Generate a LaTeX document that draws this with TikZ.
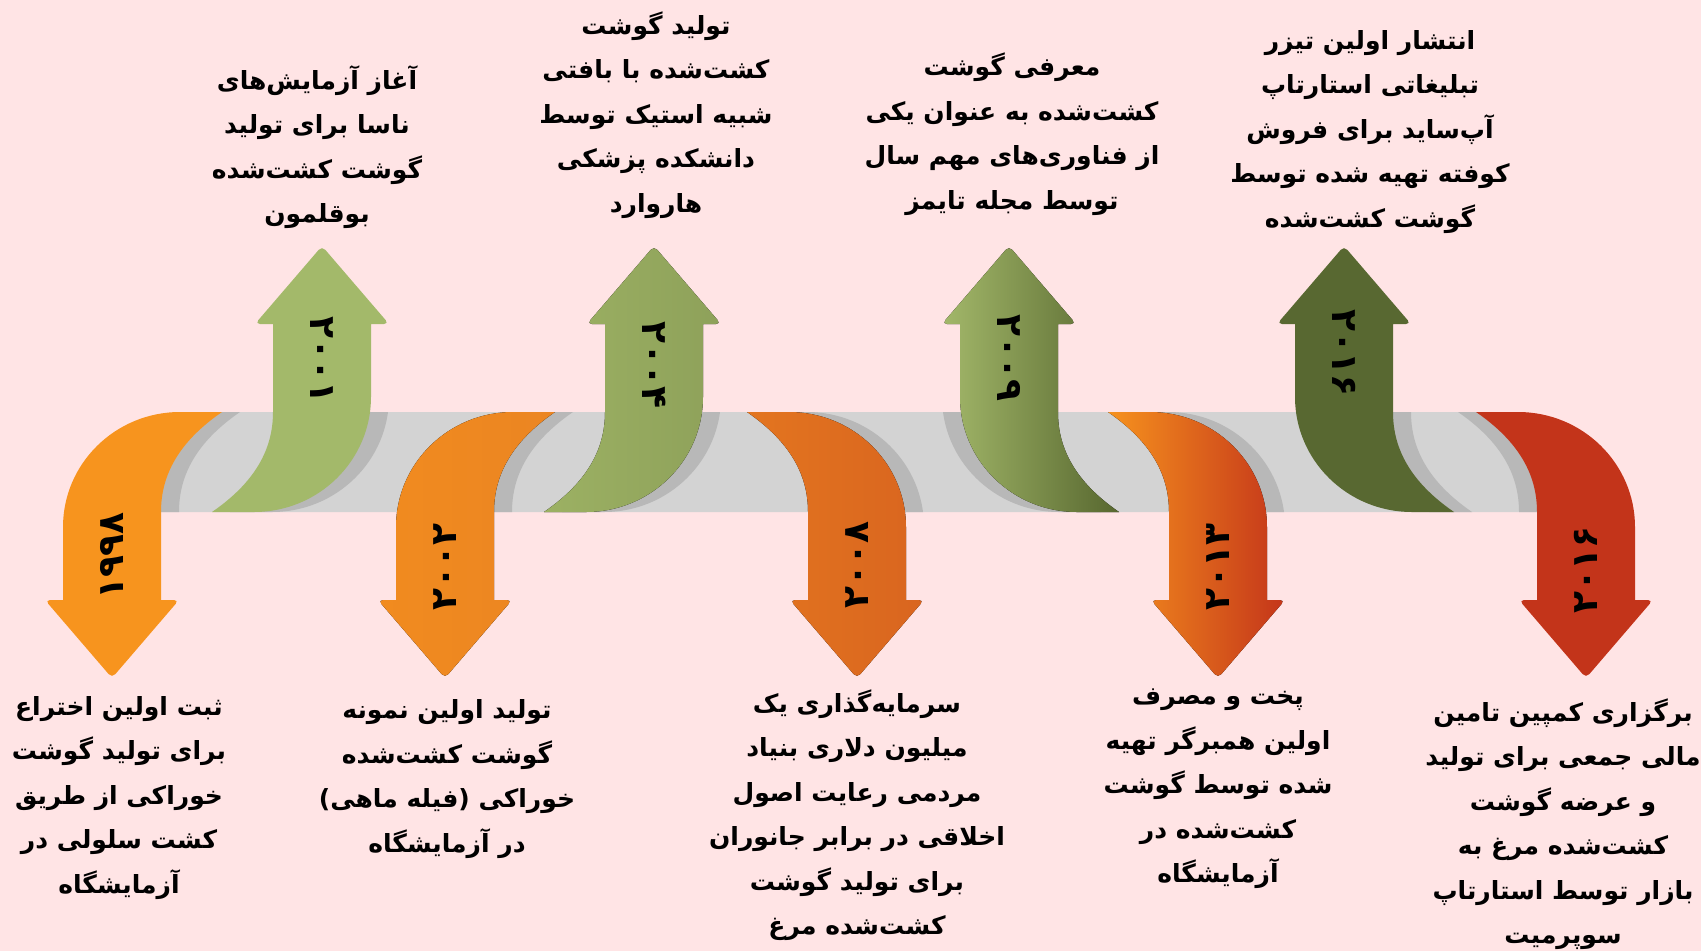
\documentclass[tikz,border=0pt]{standalone}
\usepackage{fontspec}
\usetikzlibrary{positioning}
\newfontfamily\farsifont[Script=Arabic]{DejaVu Sans}
\TeXXeTstate=1
\newcommand{\fa}[1]{\beginR #1\endR}

\definecolor{pagepink}{HTML}{FFE4E5}
\definecolor{bandgray}{HTML}{D3D3D3}
\definecolor{shadowgray}{HTML}{B8B8B8}

\tikzstyle{eventtext}=[font=\farsifont\bfseries\fontsize{25}{44.5}\selectfont, align=center, inner sep=0pt]
\tikzstyle{yearlabel}=[font=\farsifont\bfseries\fontsize{36}{36}\selectfont, inner sep=0pt]
\tikzstyle{keepdir}=[]
\tikzstyle{mirrorx}=[xscale=-1]
\tikzstyle{mirrory}=[yscale=-1]
\tikzstyle{turnround}=[xscale=-1,yscale=-1]
\tikzstyle{a1998}=[fill={rgb,255:red,247;green,148;blue,30}]
\tikzstyle{a2002}=[left color={rgb,255:red,241;green,139;blue,31}, right color={rgb,255:red,235;green,133;blue,34}]
\tikzstyle{a2008}=[left color={rgb,255:red,227;green,117;blue,31}, right color={rgb,255:red,217;green,101;blue,31}]
\tikzstyle{a2013}=[left color={rgb,255:red,246;green,146;blue,30}, right color={rgb,255:red,196;green,53;blue,26}]
\tikzstyle{a2016d}=[fill={rgb,255:red,195;green,52;blue,26}]
\tikzstyle{a2001}=[fill={rgb,255:red,163;green,185;blue,106}]
\tikzstyle{a2004}=[left color={rgb,255:red,156;green,177;blue,99}, right color={rgb,255:red,142;green,161;blue,90}]
\tikzstyle{a2009}=[left color={rgb,255:red,163;green,184;blue,106}, right color={rgb,255:red,87;green,103;blue,47}]
\tikzstyle{a2016u}=[fill={rgb,255:red,88;green,104;blue,49}]

% one bent arrow around (0,0) = middle of the band, pointing down
\newcommand{\arrowoutline}{(68,-50) -- (110,-50) .. controls (62,-17) and (49,18) .. (49,50)
  -- (49,138) [rounded corners=5pt] -- (67,138) -- (0,216) -- (-67,138) [sharp corners] -- (-49,138)
  -- (-49,65) .. controls (-49,1.5) and (3.4,-50) .. (68,-50) -- cycle}
% the band, round only on top
\newcommand{\bandoutline}{(150,512) [rounded corners=40pt] -- (150,412) -- (1550,412) [sharp corners] -- (1550,512) -- cycle}

\begin{document}
\begin{tikzpicture}[x=1pt, y=-1pt]

  \useasboundingbox (0,0) rectangle (1701,951);
  \fill[pagepink] (0,0) rectangle (1701,951);

  % the band
  \fill[bandgray] \bandoutline;

  % shadows on the band
  \begin{scope}
    \clip \bandoutline;
    \foreach \c/\tf in {130/keepdir, 463/keepdir, 875/mirrorx, 1236/mirrorx, 1568/mirrorx,
                        340/turnround, 672/turnround, 991/mirrory, 1362/mirrory}
        \fill[shadowgray, shift={(\c,462)}, \tf] \arrowoutline;
  \end{scope}

  % the arrows
  \foreach \c/\tf/\sty in {112/keepdir/a1998, 445/keepdir/a2002, 857/mirrorx/a2008, 1218/mirrorx/a2013,
                           1586/mirrorx/a2016d, 322/turnround/a2001, 654/turnround/a2004,
                           1009/mirrory/a2009, 1344/mirrory/a2016u}
      \fill[\sty, shift={(\c,462)}, \tf] \arrowoutline;

  % years
  \foreach \pos/\name/\label/\rot in {{(112,556)}/y1998/۱۹۹۸/90, {(445,567)}/y2002/۲۰۰۲/90,
                                      {(857,565)}/y2008/۲۰۰۸/90, {(1218,567)}/y2013/۲۰۱۳/90,
                                      {(1586,570)}/y2016d/۲۰۱۶/90, {(322,360)}/y2001/۲۰۰۱/-90,
                                      {(654,365)}/y2004/۲۰۰۴/-90, {(1009,358)}/y2009/۲۰۰۹/-90,
                                      {(1344,353)}/y2016u/۲۰۱۶/-90}
      \node[yearlabel, rotate=\rot] (\name) at \pos {\label};

  % events below the band
  \node[eventtext] (t1998) at (119,798) {\fa{ثبت اولین اختراع}\\\fa{برای تولید گوشت}\\\fa{خوراکی از طریق}\\\fa{کشت سلولی در}\\\fa{آزمایشگاه}};
  \node[eventtext] (t2002) at (447,779) {\fa{تولید اولین نمونه}\\\fa{گوشت کشت^^^^200cشده}\\\fa{خوراکی (فیله ماهی)}\\\fa{در آزمایشگاه}};
  \node[eventtext] (t2008) at (857,815) {\fa{سرمایه^^^^200cگذاری یک}\\\fa{میلیون دلاری بنیاد}\\\fa{مردمی رعایت اصول}\\\fa{اخلاقی در برابر جانوران}\\\fa{برای تولید گوشت}\\\fa{کشت^^^^200cشده مرغ}};
  \node[eventtext] (t2013) at (1218,789) {\fa{پخت و مصرف}\\\fa{اولین همبرگر تهیه}\\\fa{شده توسط گوشت}\\\fa{کشت^^^^200cشده در}\\\fa{آزمایشگاه}};
  \node[eventtext] (t2016d) at (1563,824) {\fa{برگزاری کمپین تامین}\\\fa{مالی جمعی برای تولید}\\\fa{و عرضه گوشت}\\\fa{کشت^^^^200cشده مرغ به}\\\fa{بازار توسط استارتاپ}\\\fa{سوپرمیت}};

  % events above the band
  \node[eventtext] (t2001) at (317,147) {\fa{آغاز آزمایش^^^^200cهای}\\\fa{ناسا برای تولید}\\\fa{گوشت کشت^^^^200cشده}\\\fa{بوقلمون}};
  \node[eventtext] (t2004) at (656,115) {\fa{تولید گوشت}\\\fa{کشت^^^^200cشده با بافتی}\\\fa{شبیه استیک توسط}\\\fa{دانشکده پزشکی}\\\fa{هاروارد}};
  \node[eventtext] (t2009) at (1012,134) {\fa{معرفی گوشت}\\\fa{کشت^^^^200cشده به عنوان یکی}\\\fa{از فناوری^^^^200cهای مهم سال}\\\fa{توسط مجله تایمز}};
  \node[eventtext] (t2016u) at (1370,132) {\fa{انتشار اولین تیزر}\\\fa{تبلیغاتی استارتاپ}\\\fa{آپ^^^^200cساید برای فروش}\\\fa{کوفته تهیه شده توسط}\\\fa{گوشت کشت^^^^200cشده}};

\end{tikzpicture}
\end{document}
